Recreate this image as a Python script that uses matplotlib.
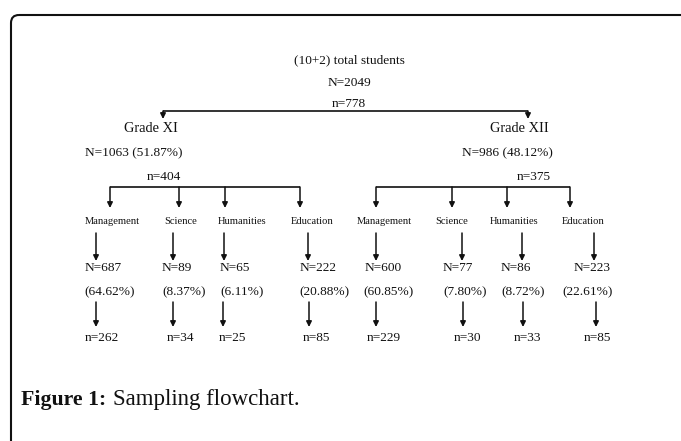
import matplotlib
matplotlib.use("Agg")
import matplotlib.pyplot as plt
from matplotlib.patches import FancyBboxPatch

# data
total_N = 2049
total_n = 778
grades = ["Grade XI", "Grade XII"]
grade_N = [1063, 986]
grade_pct = ["51.87%", "48.12%"]
grade_n = [404, 375]
streams = ["Management", "Science", "Humanities", "Education"]
xi_N = [687, 89, 65, 222]
xi_pct = ["64.62%", "8.37%", "6.11%", "20.88%"]
xi_n = [262, 34, 25, 85]
xii_N = [600, 77, 86, 223]
xii_pct = ["60.85%", "7.80%", "8.72%", "22.61%"]
xii_n = [229, 30, 33, 85]

# layout (pixel positions)
top_x = 349
grade_arrow_x = [163, 528]
grade_lbl_x = [151, 519]
grade_N_x = [134, 507]
grade_n_x = [164, 534]
bracket_x = [[110, 179, 225, 300], [376, 452, 507, 570]]
stream_lbl_x = [[112, 181, 242, 312], [384, 452, 514, 583]]
arrow1_x = [[96, 173, 224, 308], [376, 462, 522, 594]]
N_x = [[103, 177, 235, 318], [383, 458, 516, 592]]
pct_x = [[110, 184, 242, 324], [389, 465, 523, 588]]
arrow2_x = [[96, 173, 223, 309], [376, 463, 523, 596]]
n_x = [[102, 181, 232, 316], [384, 467, 527, 597]]

plt.rcParams['font.family'] = ['Liberation Serif', 'DejaVu Serif']
txt_col = '#111111'
line_col = '#333333'

fig = plt.figure(figsize=(6.81, 4.41), dpi=100)
ax = fig.add_axes([0, 0, 1, 1])
ax.set_xlim(0, 681)
ax.set_ylim(441, 0)
ax.axis('off')

frame = FancyBboxPatch((11, 15), 700, 460, boxstyle="round,pad=0,rounding_size=8",
                       fill=False, lw=1.5, ec='#111111', clip_on=True)
ax.add_patch(frame)


def t(x, y, s, size=9.6, **kw):
    ax.text(x, y, s, ha='center', va='center', fontsize=size, color=txt_col, **kw)


def arrow(x, y0, y1):
    ax.annotate('', xy=(x, y1), xytext=(x, y0),
                arrowprops=dict(arrowstyle='-|>', color='#111111', lw=1.1,
                                mutation_scale=8, shrinkA=0, shrinkB=0))


t(top_x, 60, "(10+2) total students")
t(top_x, 83, f"N={total_N}")
t(top_x, 104, f"n={total_n}")

# top bracket
ax.plot(grade_arrow_x, [111, 111], color=line_col, lw=1.4, solid_capstyle='butt')
for gx in grade_arrow_x:
    arrow(gx, 111, 119)

sub = [(xi_N, xi_pct, xi_n), (xii_N, xii_pct, xii_n)]
for g in range(2):
    t(grade_lbl_x[g], 129, grades[g], size=10.4)
    t(grade_N_x[g], 153, f"N={grade_N[g]} ({grade_pct[g]})")
    t(grade_n_x[g], 177, f"n={grade_n[g]}")
    bx = bracket_x[g]
    ax.plot([bx[0], bx[-1]], [187, 187], color=line_col, lw=1.4, solid_capstyle='butt')
    for x in bx:
        arrow(x, 187, 208)
    Ns, pcts, ns = sub[g]
    for i in range(4):
        t(stream_lbl_x[g][i], 221, streams[i], size=7.6)
        arrow(arrow1_x[g][i], 233, 261)
        t(N_x[g][i], 268, f"N={Ns[i]}")
        t(pct_x[g][i], 292, f"({pcts[i]})")
        arrow(arrow2_x[g][i], 302, 327)
        t(n_x[g][i], 338, f"n={ns[i]}")

# caption
ax.text(21, 405, "Figure 1:", ha='left', va='baseline', fontsize=15.7, fontweight='bold', color='#111111')
ax.text(113, 405, "Sampling flowchart.", ha='left', va='baseline', fontsize=16.5, color='#111111')

fig.savefig("out.png", dpi=100)
